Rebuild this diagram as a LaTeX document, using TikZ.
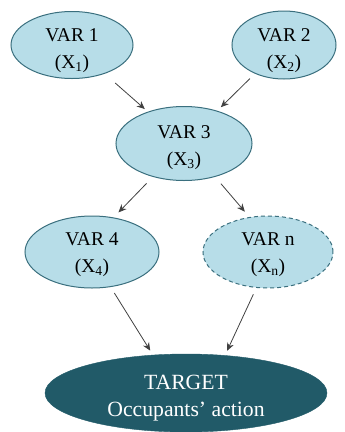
\documentclass[tikz,border=0pt]{standalone}
\usepackage{fontspec}
\setmainfont{Liberation Serif}
\usetikzlibrary{shapes.geometric,arrows.meta}
\definecolor{lightfill}{HTML}{B7DDE8}
\definecolor{edgeteal}{HTML}{3A6F7E}
\definecolor{darkteal}{HTML}{215A68}
\newcommand\twolines[3]{\raisebox{-#1}[0pt][0pt]{\begin{tabular}{@{}c@{}}#2\\#3\end{tabular}}}
\tikzset{
  varnode/.style={ellipse, draw=edgeteal, line width=1pt, fill=lightfill, inner sep=0pt,
    font=\fontsize{19.5}{27}\selectfont},
  targetnode/.style={ellipse, draw=darkteal, fill=darkteal, inner sep=0pt, text=white,
    font=\fontsize{21.7}{27}\selectfont},
  arr/.style={-{Stealth[length=8pt,width=7pt]}, draw=black!75, line width=0.8pt}
}
\begin{document}
\begin{tikzpicture}[x=1pt,y=-1pt]
\useasboundingbox (0,0) rectangle (345,432);
\node[varnode, minimum width=122pt, minimum height=67pt] (v1) at (72,45) {\twolines{10pt}{VAR 1}{(X\textsubscript{1})}};
\node[varnode, minimum width=104pt, minimum height=68pt] (v2) at (284,45) {\twolines{10pt}{VAR 2}{(X\textsubscript{2})}};
\node[varnode, minimum width=136pt, minimum height=74pt] (v3) at (184,143.5) {\twolines{8pt}{VAR 3}{(X\textsubscript{3})}};
\node[varnode, minimum width=134pt, minimum height=72pt] (v4) at (92,252) {\twolines{7pt}{VAR 4}{(X\textsubscript{4})}};
\node[varnode, dashed, dash pattern=on 4pt off 3pt, minimum width=130pt, minimum height=72pt] (vn) at (268,252) {\twolines{7pt}{VAR n}{(X\textsubscript{n})}};
\node[targetnode, minimum width=282pt, minimum height=78pt] (t) at (186,393) {\twolines{10pt}{TARGET}{Occupants’ action}};
\draw[arr, shorten <=14pt, shorten >=4pt] (v1) -- (v3);
\draw[arr, shorten <=7pt, shorten >=5pt] (v2) -- (v3);
\draw[arr, shorten <=9pt, shorten >=7pt] (v3.-133) -- (v4.58);
\draw[arr, shorten <=9pt, shorten >=7pt] (v3.-47) -- (vn.118);
\draw[arr, shorten <=7pt, shorten >=5pt] (v4.-62) -- (t.131);
\draw[arr, shorten <=7pt, shorten >=5pt] (vn.-108) -- (t.44);
\end{tikzpicture}
\end{document}
